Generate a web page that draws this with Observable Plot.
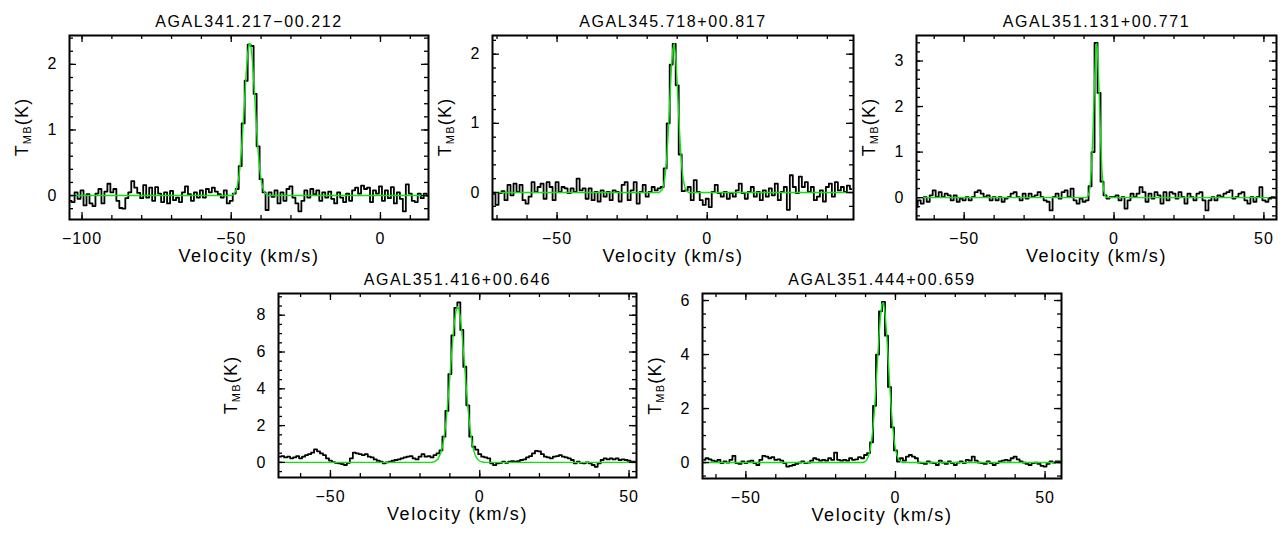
<!DOCTYPE html>
<html><head><meta charset="utf-8">
<script src="https://cdn.jsdelivr.net/npm/d3@7"></script>
<script src="https://cdn.jsdelivr.net/npm/@observablehq/plot@0.6"></script>
<style>
html,body{margin:0;padding:0;background:#fff;}
#chart{position:relative;width:1287px;height:533px;overflow:hidden;}
#chart svg{position:absolute;overflow:visible;background:transparent;}
#chart svg text{letter-spacing:1px;}
#chart svg g[aria-label="text"] text{letter-spacing:1.6px;}
</style></head><body><div id="chart"></div>
<script>
// ---------------- DATA ----------------
const sources = ["AGAL341.217\u221200.212","AGAL345.718+00.817","AGAL351.131+00.771","AGAL351.416+00.646","AGAL351.444+00.659"];
// first channel velocity (km/s) and channel width of each spectrum
const firstChannel = [-104, -71, -66, -67, -64];
const channelWidth = [1, 1, 1, 1, 1];

const spec1 = [-0.08,-0.10,0.05,-0.05,0.08,-0.15,0.02,-0.12,-0.16,0.03,
0.10,-0.12,0.06,0.18,0.05,0.10,-0.08,-0.19,-0.20,-0.04,
0.05,0.22,0.12,0.04,-0.04,0.16,-0.03,0.12,-0.08,0.13,
0.03,-0.10,0.05,-0.12,0.07,-0.07,-0.03,-0.10,0.05,0.14,
0.02,-0.08,0.05,-0.03,0.08,-0.03,0.10,0.05,0.12,0.06,
0.02,-0.03,0.08,-0.12,-0.08,0.03,0.10,0.45,1.10,1.75,
2.30,2.28,1.55,0.75,0.25,0.05,-0.22,0.05,-0.02,0.08,
-0.12,0.05,-0.08,0.10,0.14,-0.03,-0.12,-0.24,-0.08,0.08,
-0.03,0.10,0.02,0.08,-0.08,0.05,-0.03,0.06,-0.05,-0.12,
0.05,-0.03,-0.10,0.03,-0.08,0.08,0.12,0.03,0.15,0.10,
0.12,-0.10,0.08,0.03,0.14,-0.08,0.08,-0.04,0.13,-0.12,
0.05,-0.05,-0.24,0.17,0.03,-0.08,-0.10,0.03,-0.04,0.03,
0.00];
const spec2 = [-0.02,-0.18,-0.01,0.02,-0.11,0.11,-0.04,0.13,0.01,0.11,
-0.11,-0.16,-0.06,0.15,0.01,0.08,0.13,-0.09,0.15,0.08,
-0.11,0.15,0.01,0.08,0.06,-0.01,0.06,0.01,0.20,0.03,
0.06,-0.09,0.06,-0.11,0.01,-0.13,0.03,-0.06,0.01,-0.11,
0.03,0.01,-0.13,0.11,0.15,-0.11,0.03,0.15,-0.16,0.01,
0.11,-0.06,0.01,0.08,0.03,0.06,0.08,0.35,1.00,1.85,
2.15,1.55,0.55,0.02,0.03,0.08,-0.11,0.18,0.01,-0.11,
-0.18,-0.09,-0.21,0.01,0.11,-0.01,-0.06,0.01,-0.09,-0.01,
-0.06,0.03,0.13,-0.01,-0.09,0.01,0.08,-0.06,0.01,-0.11,
0.03,-0.06,0.06,-0.04,0.13,-0.11,0.01,0.08,-0.25,0.25,
0.08,-0.01,0.23,0.08,0.15,0.01,0.08,-0.11,-0.06,0.03,
-0.13,0.08,0.13,-0.06,0.15,0.03,0.08,0.01,0.10,0.05];
const spec3 = [-0.20,-0.06,-0.13,0.01,-0.09,0.05,0.16,0.01,0.12,0.01,
0.09,0.05,-0.06,0.05,-0.09,-0.02,-0.06,0.01,-0.06,0.01,
0.12,0.16,0.09,0.01,0.05,-0.06,0.01,-0.06,0.01,-0.09,
-0.02,0.01,0.09,0.12,0.01,-0.06,0.09,-0.02,0.09,0.01,
0.05,0.12,0.01,-0.06,-0.09,-0.28,0.01,0.09,-0.02,0.12,
0.16,0.01,0.20,-0.06,-0.13,-0.02,-0.09,-0.06,0.25,1.00,
3.40,2.30,0.35,0.05,-0.02,0.01,0.01,0.05,-0.06,0.01,
-0.24,-0.06,0.09,0.01,0.09,0.23,0.12,-0.09,0.09,-0.02,
0.12,0.05,-0.13,0.12,-0.06,0.12,0.09,-0.02,0.12,0.01,
-0.13,0.09,0.01,-0.06,0.09,0.12,-0.06,-0.28,-0.06,0.01,
-0.06,0.05,0.01,0.09,0.12,0.16,-0.02,0.01,0.09,0.12,
-0.06,-0.13,0.01,-0.09,0.01,0.23,-0.06,-0.09,-0.02,0.01,
0.00];
const spec4 = [0.31,0.34,0.27,0.31,0.22,0.27,0.34,0.22,0.31,0.40,
0.45,0.53,0.71,0.60,0.49,0.40,0.22,0.10,0.02,-0.02,
-0.05,-0.09,-0.14,-0.02,0.22,0.53,0.49,0.45,0.40,0.45,
0.31,0.27,0.16,0.09,0.04,-0.05,0.00,0.04,0.09,0.13,
0.16,0.22,0.27,0.31,0.34,0.22,0.16,0.31,0.45,0.31,
0.34,0.27,0.40,0.49,0.65,1.40,2.80,4.80,6.90,8.40,
8.70,7.20,5.20,3.10,1.40,0.85,0.70,0.45,0.31,0.27,
0.22,-0.05,-0.15,-0.05,-0.02,0.04,-0.02,0.04,0.07,0.04,
0.07,0.13,0.16,0.27,0.34,0.49,0.63,0.60,0.45,0.31,
0.27,0.22,0.31,0.34,0.40,0.31,0.27,0.22,0.13,-0.05,
0.04,-0.02,-0.05,0.00,-0.05,-0.14,-0.24,-0.05,0.13,0.22,
0.16,0.22,0.16,0.22,0.13,0.16,0.13,0.09,0.04,0.04];
const spec5 = [0.10,0.16,0.12,0.07,0.04,0.10,-0.02,0.04,0.00,0.10,
0.25,-0.02,-0.05,0.04,-0.02,0.04,0.07,-0.02,-0.09,0.10,
0.25,0.22,0.16,0.20,0.10,0.12,0.07,-0.02,-0.15,-0.12,
-0.09,-0.05,0.00,0.04,-0.02,0.00,0.07,0.16,0.12,0.07,
0.10,0.07,0.16,0.10,0.37,0.10,0.07,0.10,0.07,0.16,
0.10,0.12,0.20,0.16,0.28,0.35,0.75,2.10,4.00,5.60,
5.95,4.70,2.80,1.30,0.45,0.04,0.16,0.07,0.22,0.28,
0.22,0.16,0.00,-0.02,-0.05,0.04,0.00,-0.02,-0.09,0.07,
0.00,-0.05,0.04,-0.02,-0.09,0.00,0.04,-0.02,0.10,0.07,
0.22,0.07,0.00,-0.02,-0.05,0.04,-0.02,-0.09,-0.02,0.04,
0.07,0.10,0.07,0.16,0.22,0.12,0.04,0.00,-0.05,-0.09,
-0.02,0.00,-0.05,-0.12,-0.15,-0.05,0.04,0.00,0.04,0.04];

// green fitted profiles, read as [velocity, T_MB] points
const fit1 = [[-104.2,0],[-50,0],[-49.5,0.01],[-49,0.03],[-48.5,0.07],[-48,0.14],[-47.5,0.27],[-47,0.46],[-46.5,0.74],[-46,1.09],[-45.5,1.48],[-45,1.86],[-44.5,2.16],[-44,2.32],[-43.5,2.30],[-43,2.11],[-42.5,1.78],[-42,1.40],[-41.5,1.01],[-41,0.68],[-40.5,0.42],[-40,0.24],[-39.5,0.13],[-39,0.06],[-38.5,0.03],[-38,0.01],[-37.5,0],[16.1,0]];
const fit2 = [[-71.5,0],[-16,0],[-15.5,0.02],[-15,0.04],[-14.5,0.11],[-14,0.25],[-13.5,0.49],[-13,0.86],[-12.5,1.30],[-12,1.75],[-11.5,2.06],[-11,2.15],[-10.5,1.96],[-10,1.58],[-9.5,1.12],[-9,0.70],[-8.5,0.38],[-8,0.19],[-7.5,0.08],[-7,0.03],[-6.5,0.01],[-6,0],[48.7,0]];
const fit3 = [[-65.9,0],[-9.5,0],[-9,0.01],[-8.5,0.06],[-8,0.23],[-7.5,0.68],[-7,1.52],[-6.5,2.58],[-6,3.31],[-5.75,3.38],[-5.5,3.22],[-5,2.37],[-4.5,1.33],[-4,0.56],[-3.5,0.18],[-3,0.04],[-2.5,0.01],[-2,0],[54.2,0]];
const fit4 = [[-67.4,0],[-16,0],[-15,0.05],[-14,0.18],[-13,0.53],[-12.5,0.85],[-12,1.30],[-11.5,1.92],[-11,2.70],[-10.5,3.62],[-10,4.66],[-9.5,5.73],[-9,6.75],[-8.5,7.60],[-8,8.20],[-7.5,8.46],[-7,8.34],[-6.5,7.88],[-6,7.12],[-5.5,6.15],[-5,5.09],[-4.5,4.03],[-4,3.05],[-3.5,2.21],[-3,1.53],[-2.5,1.01],[-2,0.65],[-1.5,0.39],[-1,0.23],[0,0.07],[1,0.02],[2,0],[52.5,0]];
const fit5 = [[-64.5,0],[-11,0],[-10.5,0.02],[-10,0.05],[-9.5,0.12],[-9,0.24],[-8.5,0.45],[-8,0.79],[-7.5,1.29],[-7,1.98],[-6.5,2.84],[-6,3.78],[-5.5,4.69],[-5,5.44],[-4.5,5.87],[-4,5.92],[-3.5,5.56],[-3,4.87],[-2.5,3.97],[-2,3.02],[-1.5,2.14],[-1,1.42],[-0.5,0.87],[0,0.50],[0.5,0.27],[1,0.13],[1.5,0.06],[2,0.02],[2.5,0],[55.5,0]];

const xDomains = [[-104.2,16.1],[-71.5,48.7],[-65.9,54.2],[-67.4,52.5],[-64.5,55.5]];
const yDomains = [[-0.365,2.44],[-0.39,2.27],[-0.48,3.56],[-0.82,9.18],[-0.59,6.26]];
const xTickLabels = [[-100,-50,0],[-50,0],[-50,0,50],[-50,0,50],[-50,0,50]];
const yTickLabels = [[0,1,2],[0,1,2],[0,1,2,3],[0,2,4,6,8],[0,2,4,6]];
const xMinorStep = [10,10,10,10,10];
const yMinorStep = [0.2,0.2,0.2,0.5,0.5];

const xLabel = "Velocity (km/s)";

// ---------------- LAYOUT ----------------
const frames = [
  {left:69, top:35, w:359, h:184},
  {left:492, top:35, w:361, h:184},
  {left:916, top:35, w:360, h:184},
  {left:278, top:293, w:358, h:184},
  {left:702, top:293, w:359, h:185}
];
const specs = [spec1, spec2, spec3, spec4, spec5];
const fits = [fit1, fit2, fit3, fit4, fit5];
const FONT = '"Liberation Sans", Arial, Helvetica, sans-serif';
const container = document.getElementById("chart");
const fmt = d => d < 0 ? "\u2212" + (-d) : String(d);

function minorTicks(domain, step) {
  const [a, b] = domain;
  const n0 = Math.ceil(a / step - 1e-9), n1 = Math.floor(b / step + 1e-9);
  const out = [];
  for (let n = n0; n <= n1; n++) out.push(+(n * step).toFixed(6));
  return out;
}

frames.forEach((f, i) => {
  const mL = 65, mR = 10, mT = 35, mB = 55;
  const spec = specs[i].map((T, k) => ({v: firstChannel[i] + k * channelWidth[i], T}));
  const fit = fits[i].map(([v, T]) => ({v, T}));
  const xMin = minorTicks(xDomains[i], xMinorStep[i]);
  const yMin = minorTicks(yDomains[i], yMinorStep[i]);
  const xMaj = xTickLabels[i];
  const yMaj = yTickLabels[i];
  const majLen = 7, minLen = 4;
  const tk = {stroke: "black", strokeWidth: 1.3};
  const svg = Plot.plot({
    width: f.w + mL + mR,
    height: f.h + mT + mB,
    marginLeft: mL, marginRight: mR, marginTop: mT, marginBottom: mB,
    x: {domain: xDomains[i]},
    y: {domain: yDomains[i]},
    style: {fontFamily: FONT, fontSize: "16px", color: "black", background: "transparent", overflow: "visible"},
    marks: [
      Plot.line(spec, {x: "v", y: "T", curve: "step", stroke: "black", strokeWidth: 1.8, clip: true}),
      Plot.line(fit, {x: "v", y: "T", stroke: "#0ce40c", strokeWidth: 1.4, clip: true}),
      // inward ticks on all four sides
      Plot.tickX(xMin, {x: d => d, insetTop: f.h - minLen, ...tk}),
      Plot.tickX(xMin, {x: d => d, insetBottom: f.h - minLen, ...tk}),
      Plot.tickX(xMaj, {x: d => d, insetTop: f.h - majLen, ...tk}),
      Plot.tickX(xMaj, {x: d => d, insetBottom: f.h - majLen, ...tk}),
      Plot.tickY(yMin, {y: d => d, insetRight: f.w - minLen, ...tk}),
      Plot.tickY(yMin, {y: d => d, insetLeft: f.w - minLen, ...tk}),
      Plot.tickY(yMaj, {y: d => d, insetRight: f.w - majLen, ...tk}),
      Plot.tickY(yMaj, {y: d => d, insetLeft: f.w - majLen, ...tk}),
      Plot.frame({stroke: "black", strokeWidth: 2}),
      Plot.axisX(xMaj, {tickSize: 0, tickPadding: 13, fontSize: 16, label: null, tickFormat: fmt}),
      Plot.axisY(yMaj, {tickSize: 0, tickPadding: 12, fontSize: 16, label: null, tickFormat: fmt}),
      Plot.text([sources[i]], {text: d => d, frameAnchor: "top", lineAnchor: "middle", dy: -13.5, fontSize: 16, fill: "black"}),
      Plot.text([xLabel], {text: d => d, frameAnchor: "bottom", lineAnchor: "middle", dy: 37, fontSize: 18, fill: "black"})
    ]
  });
  svg.style.left = (f.left - mL) + "px";
  svg.style.top = (f.top - mT) + "px";
  // y-axis label T_MB(K) with subscript
  const t = d3.select(svg).append("text")
    .attr("transform", `translate(${mL - 41},${mT + f.h / 2}) rotate(-90)`)
    .attr("text-anchor", "middle")
    .attr("font-size", 18)
    .attr("fill", "black")
    .style("letter-spacing", "1.2px");
  t.append("tspan").text("T");
  t.append("tspan").attr("font-size", 11).attr("dy", 3).text("MB");
  t.append("tspan").attr("dy", -3).text("(K)");
  container.appendChild(svg);
});
</script></body></html>
